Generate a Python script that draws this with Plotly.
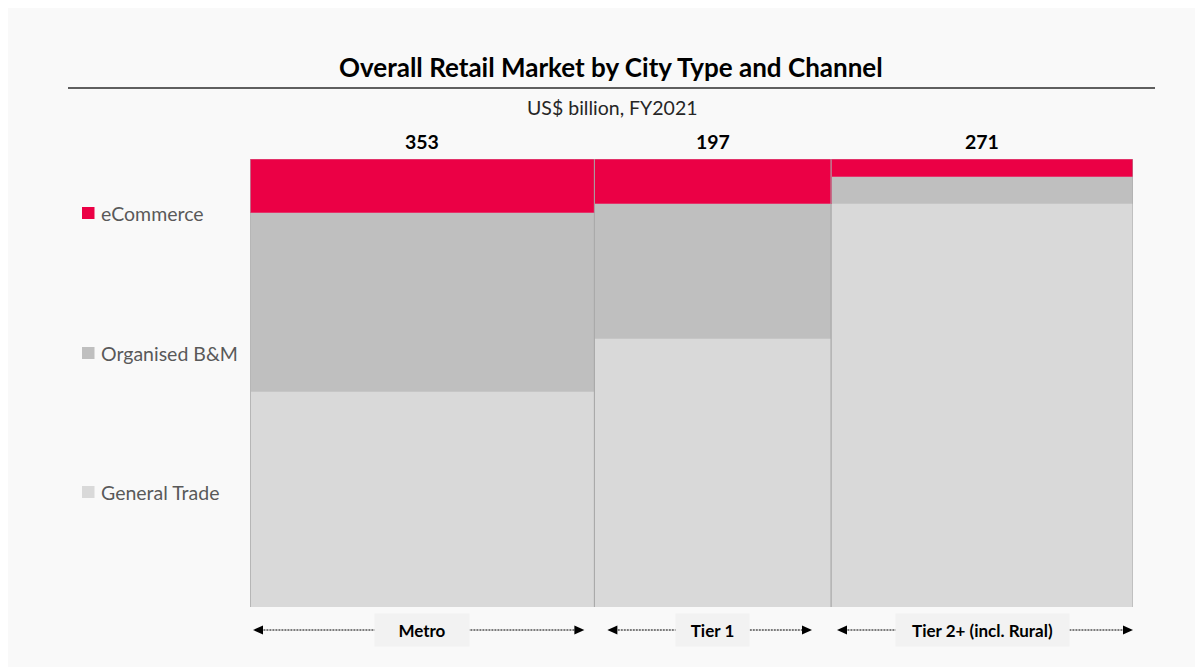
import plotly.graph_objects as go

# ---------------- data ----------------
city_types = ["Metro", "Tier 1", "Tier 2+ (incl. Rural)"]
totals_usd_bn = [353, 197, 271]
column_width_pct = [39.0, 26.8, 34.2]          # column widths as drawn (share of axis)
channels = ["General Trade", "Organised B&M", "eCommerce"]
general_trade_pct = [48, 60, 90]
organised_bm_pct = [40, 30, 6]
ecommerce_pct = [12, 10, 4]

# ---------------- styles ----------------
colors = {"General Trade": "#D9D9D9", "Organised B&M": "#BFBFBF", "eCommerce": "#EB0045"}
FONT = "Lato"
label_box_widths = [94, 73, 173]
arrow_inset_px = [(3, 10), (13, 19), (6, 0)]   # (left, right) insets of the span arrows

OFF = 8                      # page body margin
W, H = 1195, 659
ML, MT = 250 - OFF, 159 - OFF
MR, MB = W - (1133 - OFF), H - (607 - OFF)
PW, PH = W - ML - MR, H - MT - MB
PX_PER_UNIT = PW / 100.0


def px_x(px):  # page px -> paper
    return (px - OFF - ML) / PW


def px_y(py):
    return (H - MB - (py - OFF)) / PH


lefts = []
acc = 0
for w in column_width_pct:
    lefts.append(acc)
    acc += w
mids = [l + w / 2 for l, w in zip(lefts, column_width_pct)]

fig = go.Figure()
series = {"General Trade": general_trade_pct, "Organised B&M": organised_bm_pct, "eCommerce": ecommerce_pct}
for ch in channels:
    line_col = "#E3336A" if ch == "eCommerce" else "#C6C6C6"
    fig.add_trace(go.Bar(
        x=mids, y=series[ch], width=column_width_pct, name=ch,
        marker=dict(color=colors[ch], line=dict(color=line_col, width=1)),
        showlegend=False, hoverinfo="skip",
    ))

shapes = []
# rule under title
shapes.append(dict(type="line", xref="paper", yref="paper", x0=px_x(68), x1=px_x(1155),
                   y0=px_y(88), y1=px_y(88), line=dict(color="#2B2B2B", width=1.5)))
# column border lines
for b in lefts + [acc]:
    shapes.append(dict(type="line", xref="x", yref="y", x0=b, x1=b, y0=0, y1=100,
                       line=dict(color="#A6A6A6", width=1), layer="above"))

annotations = []


def ann(**kw):
    base = dict(showarrow=False, xanchor="center", yanchor="middle")
    base.update(kw)
    annotations.append(base)


ann(text="<b>Overall Retail Market by City Type and Channel</b>", xref="paper", yref="paper",
    x=px_x(611), y=px_y(67), font=dict(family=FONT, size=26, color="#000000"))
ann(text="US$ billion, FY2021", xref="paper", yref="paper",
    x=px_x(612), y=px_y(108), font=dict(family=FONT, size=19.5, color="#262626"))
for m, t in zip(mids, totals_usd_bn):
    ann(text=f"<b>{t}</b>", xref="x", yref="paper", x=m, y=px_y(141),
        font=dict(family=FONT, size=19.5, color="#000000"))

# legend (left side)
legend_rows = [("eCommerce", 213), ("Organised B&M", 353), ("General Trade", 492)]
for name, py in legend_rows:
    shapes.append(dict(type="rect", xref="paper", yref="paper", x0=px_x(82), x1=px_x(94.5),
                       y0=px_y(py + 6), y1=px_y(py - 6), fillcolor=colors[name], line=dict(width=0)))
    ann(text=name, xref="paper", yref="paper", x=px_x(98.5), y=px_y(py), xanchor="left",
        font=dict(family=FONT, size=19.5, color="#595959"))

# bottom arrows + labels
ay = px_y(630)
for l, w, m, lab, bw, (il, ir) in zip(lefts, column_width_pct, mids, city_types, label_box_widths, arrow_inset_px):
    xs, xe = l + il / PX_PER_UNIT, l + w - ir / PX_PER_UNIT
    shapes.append(dict(type="line", xref="x", yref="paper", x0=xs + 0.5, x1=xe - 0.5, y0=ay, y1=ay,
                       line=dict(color="#000000", width=1, dash="2px,1px")))
    shapes.append(dict(type="path", xref="x", yref="paper", xsizemode="pixel", ysizemode="pixel",
                       xanchor=xs, yanchor=ay, path="M 0,0 L 10,4.5 L 10,-4.5 Z",
                       fillcolor="#000000", line=dict(width=0)))
    shapes.append(dict(type="path", xref="x", yref="paper", xsizemode="pixel", ysizemode="pixel",
                       xanchor=xe, yanchor=ay, path="M 0,0 L -10,4.5 L -10,-4.5 Z",
                       fillcolor="#000000", line=dict(width=0)))
    ann(text=f"<b>{lab}</b>", xref="x", yref="paper", x=m, y=ay,
        bgcolor="#F2F2F2", width=bw, height=32, borderpad=0,
        font=dict(family=FONT, size=17, color="#000000"))

fig.update_layout(
    barmode="stack", width=W, height=H, autosize=False,
    margin=dict(l=ML, r=MR, t=MT, b=MB, pad=0),
    paper_bgcolor="#F9F9F9", plot_bgcolor="rgba(0,0,0,0)",
    xaxis=dict(range=[0, 100], visible=False, fixedrange=True),
    yaxis=dict(range=[0, 100], visible=False, fixedrange=True),
    shapes=shapes, annotations=annotations, showlegend=False,
)

fig.write_html("out.html")
